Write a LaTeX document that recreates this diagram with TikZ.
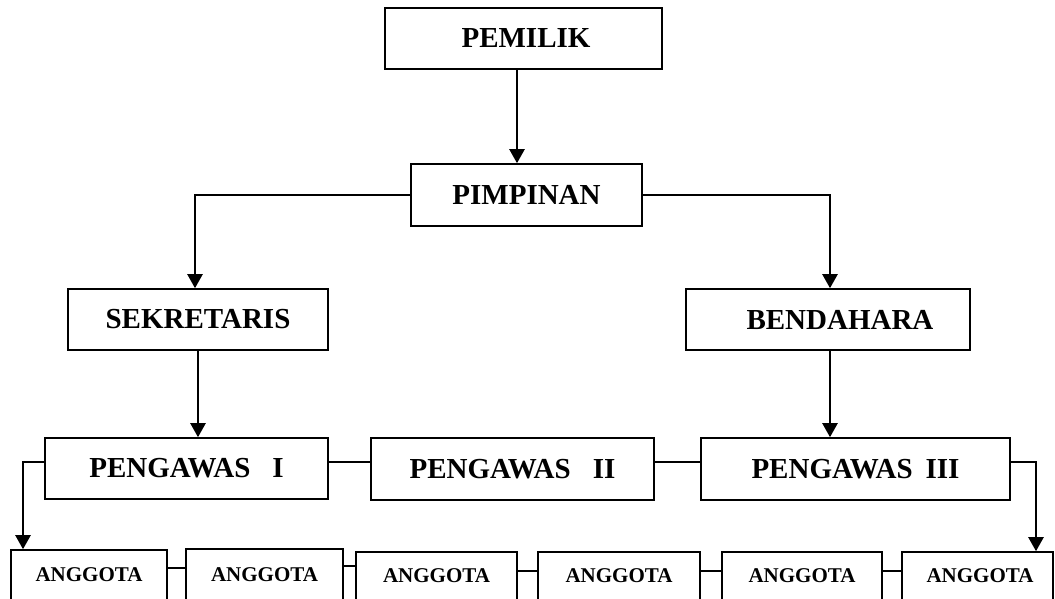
\documentclass[tikz,border=0pt]{standalone}
\usepackage{fontspec}
\setmainfont{Liberation Serif}
\usetikzlibrary{arrows.meta}
\begin{document}
\begin{tikzpicture}[x=1pt,y=-1pt,
  box/.style={draw,line width=1.6pt,rectangle,inner sep=0pt,font=\fontsize{29}{29}\selectfont\bfseries},
  smallbox/.style={draw,line width=1.6pt,rectangle,inner sep=0pt,font=\fontsize{21}{21}\selectfont\bfseries},
  arr/.style={line width=2.3pt,-{Triangle[width=15pt,length=14pt]}},
  tie/.style={line width=1.7pt}]
\useasboundingbox (0,0) rectangle (1055,598);
\clip (0,0) rectangle (1055,598);
\node[box,minimum width=277pt,minimum height=61pt] (pemilik) at (523.5,38.5) {\hspace*{5pt}PEMILIK};
\node[box,minimum width=231pt,minimum height=62pt] (pimpinan) at (526.5,195) {PIMPINAN};
\node[box,minimum width=260pt,minimum height=61pt] (sek) at (198,319.5) {SEKRETARIS};
\node[box,minimum width=284pt,minimum height=61pt] (ben) at (828,319.5) {\hspace*{24pt}BENDAHARA};
\node[box,minimum width=283pt,minimum height=61pt] (p1) at (186.5,468.5) {PENGAWAS\hspace{22pt}I};
\node[box,minimum width=283pt,minimum height=62pt] (p2) at (512.5,469) {PENGAWAS\hspace{22pt}II};
\node[box,minimum width=309pt,minimum height=62pt] (p3) at (855.5,469) {PENGAWAS\hspace{13pt}III};
\node[smallbox,minimum width=156pt,minimum height=50pt] (a1) at (89,575) {ANGGOTA};
\node[smallbox,minimum width=157pt,minimum height=51pt] (a2) at (264.5,574.5) {ANGGOTA};
\node[smallbox,minimum width=161pt,minimum height=48pt] (a3) at (436.5,576) {ANGGOTA};
\node[smallbox,minimum width=162pt,minimum height=48pt] (a4) at (619,576) {ANGGOTA};
\node[smallbox,minimum width=160pt,minimum height=48pt] (a5) at (802,576) {ANGGOTA};
\node[smallbox,minimum width=151pt,minimum height=48pt] (a6) at (977.5,576) {\hspace*{5pt}ANGGOTA};
% arrows
\draw[arr] ([xshift=-6.5pt]pemilik.south) -- ([xshift=-6.5pt]pemilik.south |- pimpinan.north);
\draw[arr] (pimpinan.west) -| ([xshift=-3pt]sek.north);
\draw[arr] (pimpinan.east) -| ([xshift=2pt]ben.north);
\draw[arr] (sek.south) -- (sek.south |- p1.north);
\draw[arr] ([xshift=2pt]ben.south) -- ([xshift=2pt]ben.south |- p3.north);
\draw[arr] ([yshift=6.5pt]p1.west) -| ([xshift=-66pt]a1.north);
\draw[arr] ([yshift=7pt]p3.east) -| ([xshift=58.5pt]a6.north);
% ties
\draw[tie] ([yshift=6.5pt]p1.east) -- ([yshift=6.5pt]p1.east -| p2.west);
\draw[tie] ([yshift=7pt]p2.east) -- ([yshift=7pt]p2.east -| p3.west);
\draw[tie] ([yshift=7pt]a1.east) -- ([yshift=7pt]a1.east -| a2.west);
\draw[tie] ([yshift=8.5pt]a2.east) -- ([yshift=8.5pt]a2.east -| a3.west);
\draw[tie] ([yshift=5pt]a3.east) -- ([yshift=5pt]a3.east -| a4.west);
\draw[tie] ([yshift=5pt]a4.east) -- ([yshift=5pt]a4.east -| a5.west);
\draw[tie] ([yshift=5pt]a5.east) -- ([yshift=5pt]a5.east -| a6.west);
\end{tikzpicture}
\end{document}
